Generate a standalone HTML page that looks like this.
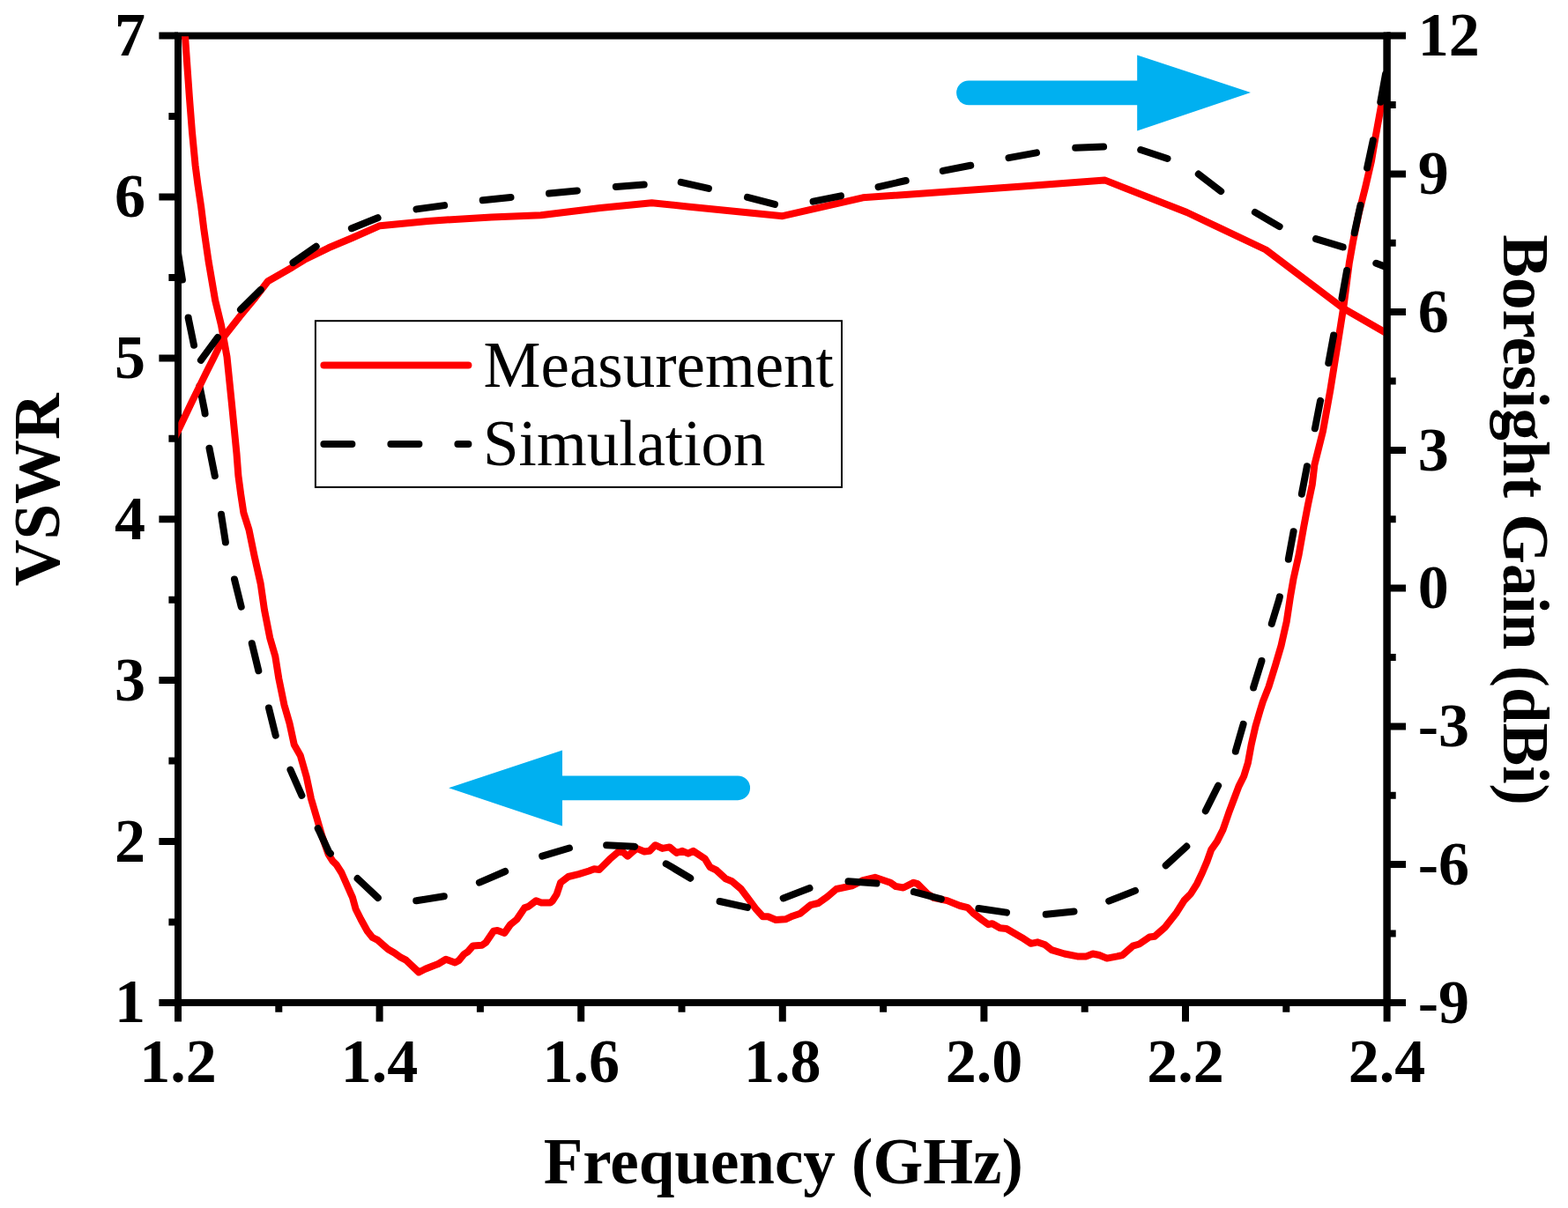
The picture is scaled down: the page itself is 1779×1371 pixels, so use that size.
<!DOCTYPE html><html><head><meta charset="utf-8"><style>
html,body{margin:0;padding:0;background:#fff;}
svg{display:block;}
text{font-family:"Liberation Serif","Times New Roman",serif;}
.tl{font-size:70px;font-weight:bold;}
.tt{font-size:73px;font-weight:bold;}
.lg{font-size:73px;font-weight:normal;}
</style></head><body>
<svg width="1779" height="1371" viewBox="0 0 1779 1371">
<defs><clipPath id="c"><rect x="202.3" y="41.3" width="1371.3" height="1096.6"/></clipPath></defs>
<rect width="1779" height="1371" fill="#fff"/>
<g stroke="#000" stroke-width="8" fill="none" stroke-linecap="butt">
<rect x="202.0" y="40.6" width="1371.6" height="1097.3" stroke-linejoin="miter"/>
<path d="M180.4 1137.9H202.0M191.4 1046.5H202.0M180.4 955.0H202.0M191.4 863.6H202.0M180.4 772.1H202.0M191.4 680.7H202.0M180.4 589.2H202.0M191.4 497.8H202.0M180.4 406.4H202.0M191.4 314.9H202.0M180.4 223.5H202.0M191.4 132.0H202.0M180.4 40.6H202.0M1573.6 1137.9H1595.0M1573.6 1059.5H1583.7M1573.6 981.1H1595.0M1573.6 902.8H1583.7M1573.6 824.4H1595.0M1573.6 746.0H1583.7M1573.6 667.6H1595.0M1573.6 589.2H1583.7M1573.6 510.9H1595.0M1573.6 432.5H1583.7M1573.6 354.1H1595.0M1573.6 275.7H1583.7M1573.6 197.4H1595.0M1573.6 119.0H1583.7M1573.6 40.6H1595.0M202.0 1137.9V1159.4M316.3 1137.9V1148.8M430.6 1137.9V1159.4M544.9 1137.9V1148.8M659.2 1137.9V1159.4M773.5 1137.9V1148.8M887.8 1137.9V1159.4M1002.1 1137.9V1148.8M1116.4 1137.9V1159.4M1230.7 1137.9V1148.8M1345.0 1137.9V1159.4M1459.3 1137.9V1148.8M1573.6 1137.9V1159.4"/>
</g>
<text class="tl" x="165" y="1160.4" text-anchor="end">1</text>
<text class="tl" x="165" y="977.5" text-anchor="end">2</text>
<text class="tl" x="165" y="794.6" text-anchor="end">3</text>
<text class="tl" x="165" y="611.8" text-anchor="end">4</text>
<text class="tl" x="165" y="428.9" text-anchor="end">5</text>
<text class="tl" x="165" y="246.0" text-anchor="end">6</text>
<text class="tl" x="165" y="63.1" text-anchor="end">7</text>
<text class="tl" x="1608.8" y="1160.5">-9</text>
<text class="tl" x="1608.8" y="1003.7">-6</text>
<text class="tl" x="1608.8" y="847.0">-3</text>
<text class="tl" x="1608.8" y="690.2">0</text>
<text class="tl" x="1608.8" y="533.5">3</text>
<text class="tl" x="1608.8" y="376.7">6</text>
<text class="tl" x="1608.8" y="220.0">9</text>
<text class="tl" x="1608.8" y="63.2">12</text>
<text class="tl" x="202.0" y="1228" text-anchor="middle">1.2</text>
<text class="tl" x="430.6" y="1228" text-anchor="middle">1.4</text>
<text class="tl" x="659.2" y="1228" text-anchor="middle">1.6</text>
<text class="tl" x="887.8" y="1228" text-anchor="middle">1.8</text>
<text class="tl" x="1116.4" y="1228" text-anchor="middle">2.0</text>
<text class="tl" x="1345.0" y="1228" text-anchor="middle">2.2</text>
<text class="tl" x="1573.6" y="1228" text-anchor="middle">2.4</text>
<text class="tt" x="616.7" y="1343.4">Frequency (GHz)</text>
<text class="tt" text-anchor="middle" transform="translate(67.3,555.7) rotate(-90)">VSWR</text>
<text class="tt" text-anchor="middle" transform="translate(1706.2,590) rotate(90)">Boresight Gain (dBi)</text>
<g clip-path="url(#c)" fill="none" stroke-width="8" stroke-linejoin="round">
<polyline stroke="#ff0000" stroke-linecap="round" points="209.8,38.0 215.0,111.8 218.0,150.0 221.6,187.7 224.5,210.0 228.2,235.0 231.3,260.0 236.5,296.0 244.2,341.0 251.0,369.0 257.5,405.0 262.8,456.8 268.5,515.0 270.4,540.0 273.2,561.0 276.4,582.0 282.5,601.3 288.6,631.0 295.7,662.5 300.0,692.3 306.2,723.8 312.3,744.8 316.3,770.0 322.4,799.8 328.5,820.8 333.8,845.3 340.8,857.5 347.8,882.0 353.0,906.6 359.2,927.6 365.3,948.6 372.5,969.3 377.4,977.2 381.7,981.4 387.5,990.5 394.8,1007.0 400.0,1018.7 403.6,1031.8 409.5,1043.5 416.8,1056.7 422.6,1064.0 428.5,1066.9 440.2,1077.2 447.5,1081.5 454.8,1086.7 460.6,1089.6 475.2,1103.5 482.5,1099.8 491.3,1096.2 497.2,1094.0 505.9,1088.8 516.2,1092.5 520.5,1090.3 526.4,1083.0 530.8,1080.1 536.6,1073.5 546.8,1072.8 551.2,1069.8 560.0,1056.7 564.4,1056.0 572.4,1058.9 579.0,1049.4 586.3,1043.5 595.1,1030.4 599.5,1028.9 608.2,1022.3 614.1,1024.5 624.3,1024.5 626.6,1022.8 631.7,1014.8 636.1,1001.6 644.8,995.0 656.5,992.1 668.2,988.5 674.1,986.3 679.9,987.0 691.6,975.3 701.8,966.5 707.0,967.3 712.1,971.7 717.2,967.3 722.3,962.9 731.1,966.5 736.9,965.8 743.5,959.2 751.5,962.9 759.6,961.4 767.6,968.0 774.2,965.8 780.8,968.7 786.6,965.8 799.8,974.6 805.6,984.1 812.9,987.7 823.2,997.2 830.5,1000.2 840.7,1008.9 849.5,1020.6 858.2,1032.3 865.5,1040.3 871.4,1040.3 880.2,1044.0 891.2,1043.3 899.2,1039.7 908.0,1036.7 919.7,1027.2 928.5,1025.0 938.7,1017.7 948.9,1009.0 966.5,1005.3 978.2,999.5 992.8,995.8 1001.5,998.7 1010.3,1001.7 1016.2,1006.0 1024.9,1007.5 1036.6,1001.7 1041.0,1003.1 1052.7,1014.8 1060.0,1019.2 1074.6,1022.1 1089.2,1028.0 1098.0,1030.2 1103.8,1036.0 1114.1,1044.0 1121.4,1049.2 1125.8,1048.2 1134.6,1053.3 1141.9,1054.0 1159.5,1064.2 1169.7,1070.8 1177.0,1069.3 1185.8,1072.3 1193.1,1078.1 1207.7,1082.5 1222.3,1085.4 1232.5,1085.4 1239.9,1082.5 1247.2,1084.0 1255.9,1087.6 1267.6,1085.4 1273.5,1084.0 1285.2,1073.7 1292.5,1071.5 1304.2,1063.5 1310.0,1062.8 1321.7,1052.5 1334.9,1035.7 1343.6,1021.8 1350.9,1014.5 1358.2,1002.8 1363.8,991.0 1369.5,977.7 1374.2,964.4 1380.9,954.9 1387.5,941.7 1394.1,922.7 1399.8,907.5 1405.5,892.4 1411.2,881.0 1415.9,865.8 1419.7,845.0 1424.5,824.1 1429.5,807.0 1432.8,796.4 1439.5,779.4 1447.1,754.7 1453.5,733.0 1459.7,705.7 1464.1,676.5 1467.5,657.0 1473.6,629.6 1479.3,597.4 1484.0,572.7 1488.8,550.0 1491.4,527.5 1500.9,489.6 1509.4,442.2 1517.0,394.8 1524.5,347.4 1530.8,298.5 1535.1,274.2 1541.7,242.0 1549.3,211.7 1555.9,183.2 1560.7,154.8 1567.3,118.8 1571.0,96.0"/>
<path stroke="#000" stroke-linecap="round" d="M213.6 360.4L213.6 360.6L216.8 376.0L220.0 391.8M226.5 438.1L226.7 439.3L232.2 466.6L232.6 469.5M237.5 508.7L237.6 509.3L243.8 540.1M251.0 583.7L251.0 583.8L255.9 615.3L255.9 615.4M266.0 657.5L273.7 688.6M285.8 730.2L293.3 761.3M305.0 803.5L312.7 834.6M329.5 873.6L342.4 902.8M360.7 940.2L361.8 942.4L373.2 967.0L374.9 968.7M405.6 997.1L428.8 1019.0M472.2 1022.3L472.3 1022.3L503.7 1017.2L503.8 1017.2M543.9 1001.6L573.2 989.0M615.2 971.6L645.9 962.5M688.1 959.2L688.7 959.2L719.4 960.7L720.0 960.9M755.7 980.3L755.9 980.4L783.0 996.5L783.2 996.7M816.6 1023.0L847.9 1029.9M888.7 1019.4L918.5 1008.0M962.5 1000.3L994.5 1002.6M1036.9 1012.2L1067.8 1020.4M1110.4 1031.0L1142.0 1035.6M1186.7 1037.8L1218.5 1034.4M1258.2 1022.6L1288.0 1010.9M1322.7 982.2L1346.3 960.6M1367.8 920.3L1381.8 892.2L1382.1 891.7M1401.8 852.7L1401.8 852.6L1410.5 822.3L1410.6 821.9M1422.1 780.4L1422.1 780.3L1431.5 750.0L1431.5 749.9M1442.8 707.9L1443.1 706.8L1451.3 680.0L1451.9 677.3M1461.8 634.8L1461.8 634.7L1467.6 603.3M1476.9 560.7L1477.0 560.1L1482.8 529.8L1482.9 529.2M1491.9 486.3L1492.1 485.5L1498.0 455.1L1498.1 454.9M1507.3 412.0L1513.1 380.5M1522.5 338.5L1528.1 307.0M1536.7 264.3L1543.5 233.0M1551.1 190.5L1557.8 159.3M1566.3 115.8L1572.0 84.3M201.8 285.9L206.9 317.5"/>
<polyline stroke="#ff0000" stroke-linecap="round" points="196.5,500.2 202.3,488.5 217.0,457.5 225.6,440.0 234.2,422.5 243.0,405.0 249.0,392.5 254.5,381.5 272.2,359.0 289.6,337.9 303.9,319.3 331.8,303.2 345.0,295.0 372.8,281.3 399.6,270.0 431.0,256.2 485.4,250.9 557.4,246.4 613.6,244.2 681.0,236.0 739.5,230.3 780.0,234.4 887.9,245.2 979.0,224.3 1160.0,211.5 1253.3,204.4 1346.5,241.0 1436.2,283.5 1523.6,349.6 1573.6,378.5 1580.0,382.2"/>
<path stroke="#000" stroke-linecap="round" d="M227.9 408.8L246.9 383.0M273.0 351.4L295.8 328.9M332.5 298.1L358.7 279.8M398.9 259.2L428.6 247.2M472.5 237.4L504.1 233.1M547.7 227.3L579.5 224.0M623.0 219.5L654.8 216.5M698.8 211.9L730.7 209.4M772.7 206.9L803.9 213.9M848.0 223.9L879.0 231.9M922.6 228.6L954.0 222.3M996.6 212.2L1027.7 205.0M1069.8 193.9L1101.2 187.8M1144.5 179.1L1176.0 173.4M1220.2 167.8L1252.1 166.6M1294.2 170.0L1324.5 180.0M1359.8 197.6L1385.2 217.1M1423.9 240.9L1451.6 257.1M1493.0 271.2L1523.6 280.4L1523.7 280.4M1561.3 298.8L1561.3 298.8L1573.6 303.5"/>
</g>
<path d="M1573.6 36.6V1141.9" stroke="#000" stroke-width="8"/>
<rect x="357.9" y="364.2" width="597.1" height="188.7" fill="#fff" stroke="#000" stroke-width="2"/>
<line x1="367.4" y1="414.5" x2="531.4" y2="414.5" stroke="#ff0000" stroke-width="8" stroke-linecap="round"/>
<line x1="367.4" y1="503.9" x2="531.4" y2="503.9" stroke="#000" stroke-width="8" stroke-linecap="round" stroke-dasharray="32 44"/>
<text class="lg" x="548.6" y="438.5">Measurement</text>
<text class="lg" x="548" y="528">Simulation</text>
<g fill="#00b0f0">
<line x1="1099" y1="105.35" x2="1292" y2="105.35" stroke="#00b0f0" stroke-width="27.7" stroke-linecap="round"/>
<polygon points="1290.2,62.5 1419,105 1290.2,148.5"/>
<line x1="636" y1="894.3" x2="837.2" y2="894.3" stroke="#00b0f0" stroke-width="27.7" stroke-linecap="round"/>
<polygon points="638,851.5 509.1,894.2 638,937.5"/>
</g>
</svg></body></html>
